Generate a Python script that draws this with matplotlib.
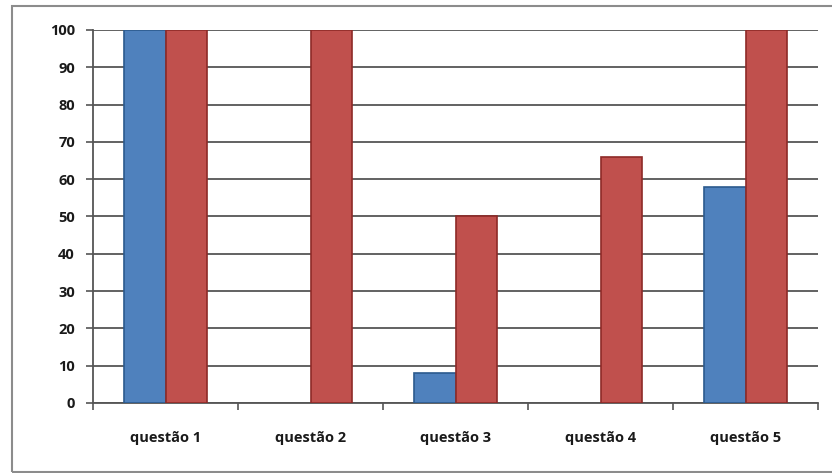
import numpy as np
import matplotlib
matplotlib.use('Agg')
import matplotlib.pyplot as plt
from matplotlib.patches import Rectangle

# Dados
categorias = ['questão 1', 'questão 2', 'questão 3', 'questão 4', 'questão 5']
serie_azul = [100, 0, 8, 0, 58]
serie_vermelha = [100, 100, 50, 66, 100]
yticks = list(range(0, 101, 10))

plt.rcParams['font.family'] = ['Open Sans', 'DejaVu Sans']

fig = plt.figure(figsize=(8.32, 4.73), dpi=100)
ax = fig.add_axes([0.1118, 0.148, 0.8714, 0.7886])

# moldura externa do gráfico (lado direito fica fora da imagem)
fig.patches.append(Rectangle((12 / 832, 1.5 / 473), 830 / 832, 465.5 / 473,
                             transform=fig.transFigure, fill=False,
                             edgecolor='#8c8c8c', linewidth=1.5))

x = np.arange(len(categorias))
w = 0.283
lw_azul = [1.2 if v > 0 else 0 for v in serie_azul]
lw_verm = [1.2 if v > 0 else 0 for v in serie_vermelha]
ax.bar(x - w / 2, serie_azul, w, color='#4F81BD', edgecolor='#2B5A8E',
       linewidth=lw_azul, zorder=3)
ax.bar(x + w / 2, serie_vermelha, w, color='#C0504D', edgecolor='#8E2A27',
       linewidth=lw_verm, zorder=3)

ax.set_xlim(-0.5, len(categorias) - 0.5)
ax.set_ylim(0, 100)
ax.set_yticks(yticks)
ax.set_yticklabels([str(v) for v in yticks], fontsize=10.5, fontweight='bold',
                   color='#1a1a1a')
ax.yaxis.grid(True, color='#555555', linewidth=1.3, zorder=0)
ax.set_axisbelow(True)

# marcas do eixo x nas fronteiras das categorias
ax.set_xticks(np.arange(-0.5, len(categorias)), minor=False)
ax.set_xticklabels([''] * (len(categorias) + 1))
ax.set_xticks(x, minor=True)
ax.set_xticklabels(categorias, minor=True, fontsize=10.5, fontweight='bold',
                   color='#1a1a1a')
ax.tick_params(axis='x', which='minor', length=0, pad=20)
ax.tick_params(axis='x', which='major', length=5, width=1.2, color='#555555',
               direction='out')
ax.tick_params(axis='y', length=5, width=1.2, color='#555555', pad=8)

for s in ['top', 'right']:
    ax.spines[s].set_visible(False)
ax.spines['left'].set_color('#555555')
ax.spines['left'].set_linewidth(1.3)
ax.spines['bottom'].set_color('#555555')
ax.spines['bottom'].set_linewidth(1.3)

fig.savefig('out.png', dpi=100)
